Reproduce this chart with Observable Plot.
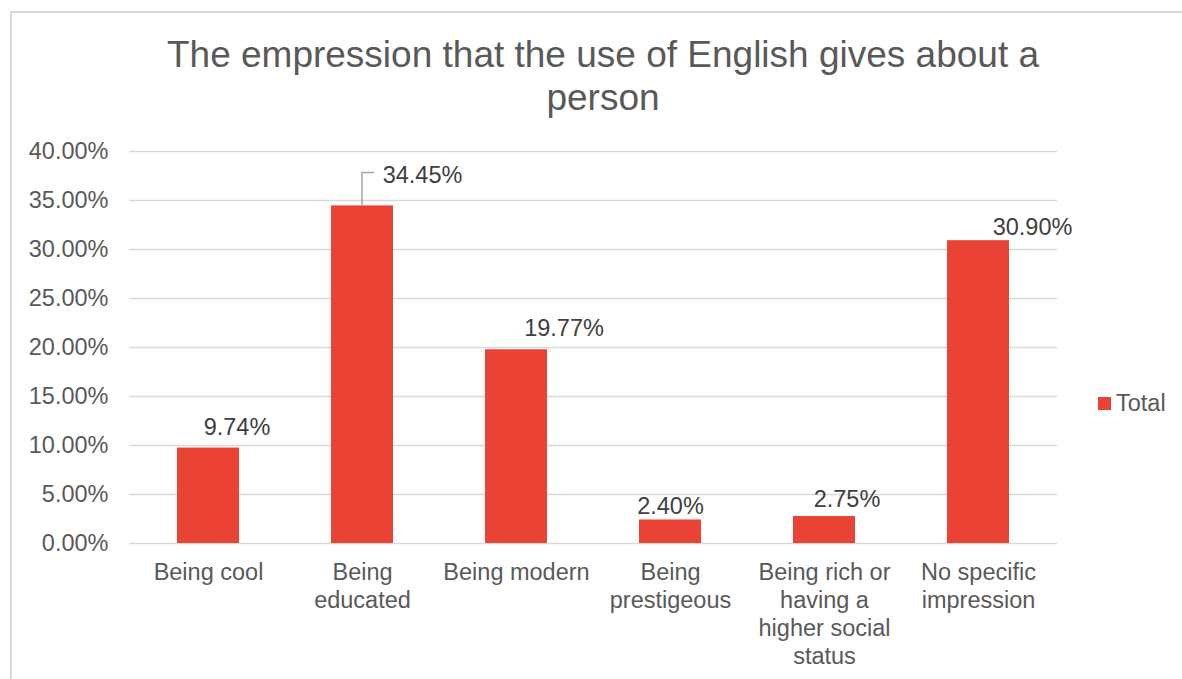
<!DOCTYPE html>
<html>
<head>
<meta charset="utf-8">
<script src="https://cdn.jsdelivr.net/npm/d3@7"></script>
<script src="https://cdn.jsdelivr.net/npm/@observablehq/plot@0.6"></script>
<style>
  html, body { margin: 0; padding: 0; background: #fff; }
  body { font-family: "Liberation Sans", Arial, sans-serif; }
  #wrap { position: relative; width: 1182px; height: 679px; overflow: hidden; background: #fff; }
  #frame { position: absolute; left: 10px; top: 11px; width: 1300px; height: 800px; border: 2px solid #D9D9D9; box-sizing: border-box; }
  #title { position: absolute; left: 103px; top: 34px; width: 1000px; text-align: center; font-size: 37px; line-height: 42.5px; color: #595959; }
  #chart { position: absolute; left: 0; top: 130px; }
  #legend { position: absolute; left: 1098px; top: 390px; font-size: 23.5px; color: #595959; display: flex; align-items: center; }
  #legend .sw { width: 13px; height: 13px; background: #EA4335; margin-right: 5px; }
</style>
</head>
<body>
<div id="wrap">
  <div id="frame"></div>
  <div id="title">The empression that the use of English gives about a<br>person</div>
  <div id="chart"></div>
  <div id="legend"><span class="sw"></span><span id="legendLabel"></span></div>
</div>
<script>
// ---- data ----
const categories = ["Being cool", "Being educated", "Being modern", "Being prestigeous", "Being rich or having a higher social status", "No specific impression"];
const values = [9.74, 34.45, 19.77, 2.40, 2.75, 30.90];
const tickLabels = ["Being cool", "Being\neducated", "Being modern", "Being\nprestigeous", "Being rich or\nhaving a\nhigher social\nstatus", "No specific\nimpression"];
const valueLabels = ["9.74%", "34.45%", "19.77%", "2.40%", "2.75%", "30.90%"];
const yTicks = [0, 5, 10, 15, 20, 25, 30, 35, 40];
const seriesName = "Total";

// ---- label placement (as moved by hand in the original) ----
const labelDx = [28.5, 60, 47.5, 0, 22.5, 54];
const labelDy = [-13, -23, -14, -6, -10, -6];

const data = categories.map((c, i) => ({cat: c, value: values[i], label: valueLabels[i], dx: labelDx[i], dy: labelDy[i]}));
const tickMap = new Map(categories.map((c, i) => [c, tickLabels[i]]));

document.getElementById("legendLabel").textContent = seriesName;

const red = "#EA4335";
const font = "Liberation Sans, Arial, sans-serif";

// leader line for the label pulled away from its bar (Being educated)
const leader = (index, scales) => {
  const i = 1;
  const sx = scales.x;
  const bw = typeof sx.bandwidth === "function" ? sx.bandwidth() : (+sx.bandwidth || 0);
  const x = sx(categories[i]) + bw / 2;
  const y0 = scales.y(values[i]);
  const g = document.createElementNS("http://www.w3.org/2000/svg", "g");
  const p = document.createElementNS("http://www.w3.org/2000/svg", "path");
  p.setAttribute("d", `M${x},${y0}V${y0 - 33}H${x + 12}`);
  p.setAttribute("fill", "none");
  p.setAttribute("stroke", "#A6A6A6");
  p.setAttribute("stroke-width", "1.5");
  g.appendChild(p);
  return g;
};

const chart = Plot.plot({
  width: 1182,
  height: 549,
  marginTop: 21,
  marginBottom: 136,
  marginLeft: 129,
  marginRight: 125,
  style: {fontFamily: font, fontSize: "23.5px", background: "transparent", overflow: "visible"},
  x: {domain: categories, paddingInner: 0.6, paddingOuter: 0.3, label: null},
  y: {domain: [0, 40], label: null},
  marks: [
    Plot.gridY(yTicks, {stroke: "#D9D9D9", strokeOpacity: 1, strokeWidth: 1.5}),
    Plot.barY(data, {x: "cat", y: "value", fill: red}),
    leader,
    ...data.map(d => Plot.text([d], {
      x: "cat", y: "value", text: "label",
      dx: d.dx, dy: d.dy, lineAnchor: "bottom", textAnchor: "middle",
      fill: "#404040", fontSize: 23.5
    })),
    Plot.axisY(yTicks, {
      tickSize: 0, tickPadding: 21, tickFormat: d => d.toFixed(2) + "%",
      color: "#595959", fontSize: 23.5, label: null
    }),
    Plot.axisX({
      tickSize: 0, tickPadding: 17, tickFormat: d => tickMap.get(d),
      color: "#595959", fontSize: 23.5, lineHeight: 1.19, label: null
    })
  ]
});
document.getElementById("chart").appendChild(chart);
</script>
</body>
</html>
